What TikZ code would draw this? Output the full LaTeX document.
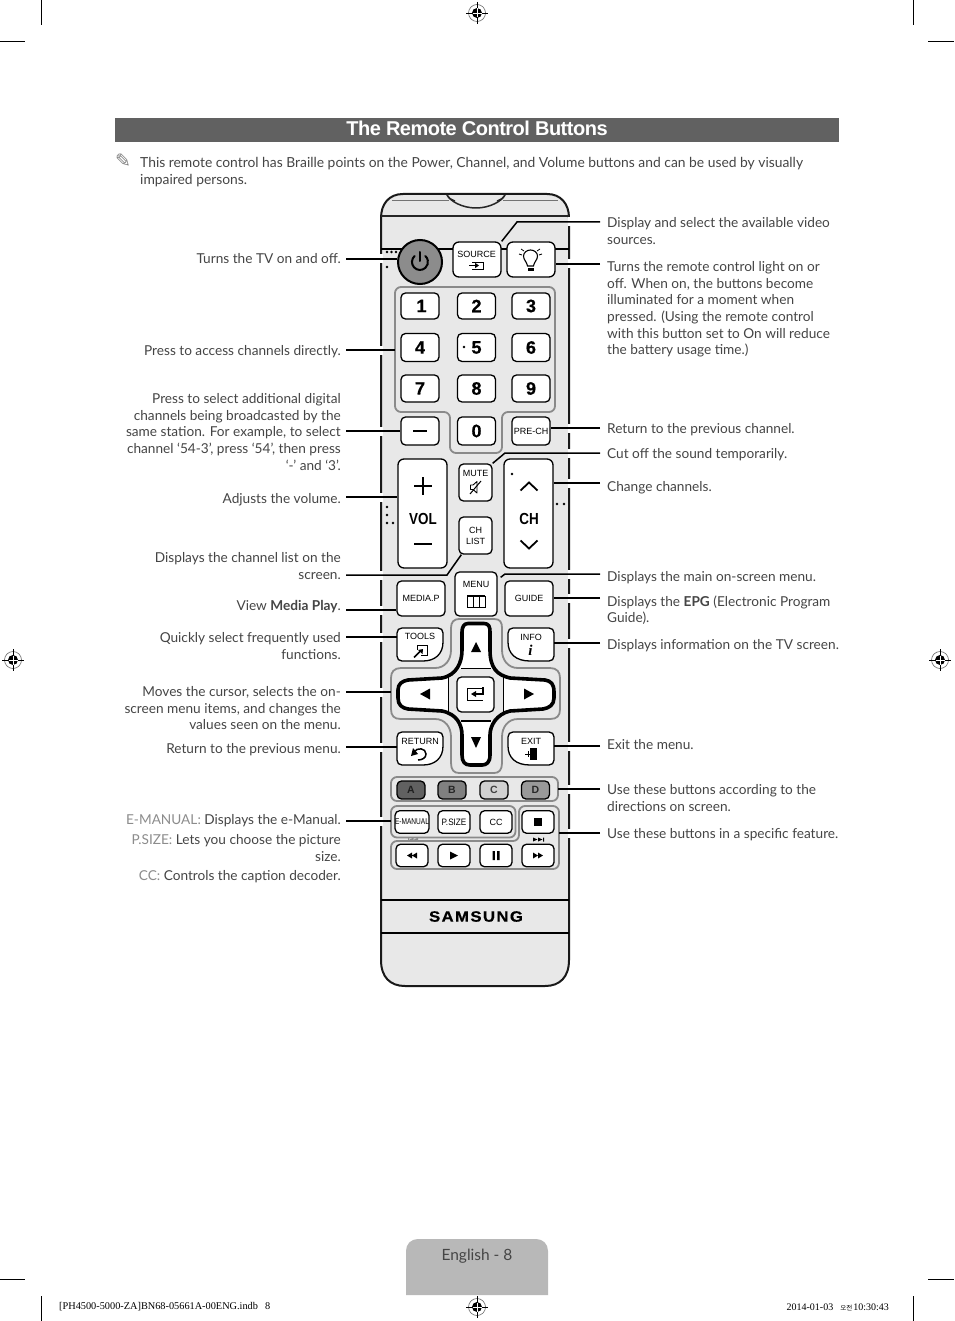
\documentclass[tikz,border=0pt]{standalone}
\usepackage{fontspec}
\setmainfont{Lato}
\newfontfamily\arialf{Liberation Sans}
\newfontfamily\titlef[LetterSpace=-2.5]{Liberation Sans}
\newfontfamily\samf[LetterSpace=9,FakeBold=0.5,FakeStretch=1.12]{Liberation Sans Bold}
\newfontfamily\digf[FakeBold=0.6]{Liberation Sans Bold}
\newfontfamily\volf[FakeStretch=0.84]{Liberation Sans Bold}
\newfontfamily\dejaf{DejaVu Sans}
\newfontfamily\timesf{Liberation Serif}
\newfontfamily\krf{Noto Sans CJK KR}
\definecolor{txt}{HTML}{454545}
\definecolor{bodyc}{HTML}{E8E8E8}
\definecolor{panelc}{HTML}{8A8A8A}
\definecolor{soft}{HTML}{8C8C8C}
\tikzset{
 lab/.style={text=txt,inner sep=0pt,yshift=-3pt,font=\fontsize{13.65}{16.6}\selectfont},
 labL/.style={lab,anchor=north east,align=right},
 labR/.style={lab,anchor=north west,align=left},
 leader/.style={draw=black,line width=1.5pt},
 btn/.style={draw=black,fill=white,line width=1.3pt,rounded corners=4.5pt,inner sep=0pt,font=\arialf\fontsize{9}{10}\selectfont},
 digit/.style={btn,minimum width=38pt,minimum height=26pt,font=\digf\fontsize{18}{18}\selectfont},
 small/.style={btn,minimum width=32pt,minimum height=22.5pt},
 colbtn/.style={btn,minimum width=28pt,minimum height=18pt,font=\arialf\bfseries\fontsize{10.5}{10.5}\selectfont},
 panel/.style={draw=panelc,fill=bodyc,line width=1.8pt},
 ttext/.style={inner sep=0pt,font=\arialf\fontsize{9}{10}\selectfont},
 dot/.style={fill=black},
 regring/.style={draw=black!60,line width=.6pt},
 crop/.style={draw=black,line width=.9pt}
}
\newcommand\regmark[2]{%
 \begin{scope}[shift={(#1,#2)}]
  \draw[regring] (0,0) circle (8.5pt);
  \fill[black] (0,0) circle (5pt);
  \draw[black,line width=.7pt] (-11,0) -- (11,0) (0,-11) -- (0,11);
  \draw[white,line width=.8pt] (-4.5,0) -- (4.5,0) (0,-4.5) -- (0,4.5);
 \end{scope}}
\newcommand\lrbtn[2]{\draw[btn,rounded corners=0pt] (#1+5,#2) -- (#1+41,#2) .. controls (#1+44,#2) and (#1+46,#2+2) .. (#1+46,#2+5) -- (#1+46,#2+14) .. controls (#1+46,#2+26) and (#1+38,#2+33) .. (#1+26,#2+33) -- (#1+5,#2+33) .. controls (#1+2,#2+33) and (#1,#2+31) .. (#1,#2+28) -- (#1,#2+5) .. controls (#1,#2+2) and (#1+2,#2) .. (#1+5,#2) -- cycle;}
\newcommand\llbtn[2]{\draw[btn,rounded corners=0pt] (#1+5,#2) -- (#1+41,#2) .. controls (#1+44,#2) and (#1+46,#2+2) .. (#1+46,#2+5) -- (#1+46,#2+28) .. controls (#1+46,#2+31) and (#1+44,#2+33) .. (#1+41,#2+33) -- (#1+22,#2+33) .. controls (#1+8,#2+33) and (#1,#2+26) .. (#1,#2+14) -- (#1,#2+5) .. controls (#1,#2+2) and (#1+2,#2) .. (#1+5,#2) -- cycle;}
\begin{document}
\begin{tikzpicture}[x=1pt,y=-1pt]
\useasboundingbox (0,0) rectangle (954,1321);
\fill[white] (0,0) rectangle (954,1321);
% crop marks
\draw[crop] (41,0) -- (41,25) (0,41) -- (25,41) (913,0) -- (913,25) (928,41) -- (954,41);
\draw[crop] (41,1296) -- (41,1321) (0,1279) -- (25,1279) (913,1296) -- (913,1321) (928,1279) -- (954,1279);
\regmark{477}{13}\regmark{13}{660}\regmark{940}{660}\regmark{477}{1307}
% heading
\fill[fill=black!62!white] (115,118) rectangle (839,142);
\node[inner sep=0pt,text=white,font=\titlef\bfseries\fontsize{20}{20}\selectfont] (title) at (477,128) {The Remote Control Buttons};
\node[inner sep=0pt,text=black!50,font=\dejaf\fontsize{19}{19}\selectfont] (pencil) at (123,161) {✎};
\node[labR,font=\fontsize{13.85}{16.6}\selectfont] (note) at (140,154.5) {This remote control has Braille points on the Power, Channel, and Volume buttons and can be used by visually\\impaired persons.};
% remote body
\draw[draw=black!90,fill=bodyc,line width=2pt] (403,194) -- (547,194) .. controls (561,194) and (569,204) .. (569,218) -- (569,960) .. controls (569,977) and (560,986) .. (545,986) -- (405,986) .. controls (390,986) and (381,977) .. (381,960) -- (381,218) .. controls (381,204) and (389,194) .. (403,194) -- cycle;
\draw[line width=.6pt,black!55] (392,200.5) -- (449,200.5) (503,200.5) -- (558,200.5);
\draw[line width=1.1pt,black!85] (381,216) -- (569,216);
\draw[line width=1.5pt,black!85] (447,195) .. controls (450,201) and (462,208) .. (476,208) .. controls (490,208) and (502,201) .. (505,195);
\draw[line width=1.2pt,black!85] (447,195) .. controls (448,198) and (451,199) .. (455,201) (505,195) .. controls (504,198) and (501,199) .. (497,201);
\draw[line width=1.5pt,black] (381,249) -- (569,249);
\draw[line width=1.5pt,black] (381,900) -- (569,900) (381,933) -- (569,933);
\node[inner sep=0pt,font=\samf\fontsize{15}{15}\selectfont] (samsung) at (476,916.5) {SAMSUNG};
% braille
\foreach \p in {(387,252),(391.5,252),(396,252),(387,267),(387,507),(387,515),(387,523),(393,523),(557,504),(564,504)}
 \fill[dot] \p circle (1.3pt);
% key panel
\draw[panel,rounded corners=6pt] (395,287) -- (555,287) -- (555,412) -- (502,412) -- (502,453) -- (450,453) -- (450,412) -- (395,412) -- cycle;
\coordinate (keyedge) at (395,350);
% power and top
\node[btn,circle,minimum size=44pt,fill=black!45,line width=2pt] (power) at (420,262) {};
\draw[line width=2pt,line cap=round] (414.6,256) arc[start angle=132,end angle=408,radius=8pt];
\draw[line width=2pt,line cap=round] (420,252) -- (420,261);
\node[btn,minimum width=48pt,minimum height=35pt,rounded corners=6pt] (source) at (477,259.5) {};
\node[ttext] (sourcet) at (476.5,254.5) {SOURCE};
\draw[line width=.7pt] (472,262) -- (483,262) -- (483,269) -- (472,269);
\draw[line width=1pt] (469,265.5) -- (477,265.5);
\fill (479,265.5) -- (475,262.8) -- (475,268.2) -- cycle;
\node[btn,minimum width=48pt,minimum height=35pt,rounded corners=6pt] (light) at (531,259.5) {};
\draw[line width=1.1pt] (527.5,266) .. controls (527,262) and (523.5,260) .. (523.5,256) .. controls (523.5,252.5) and (527,250) .. (530.5,250) .. controls (534,250) and (537.5,252.5) .. (537.5,256) .. controls (537.5,260) and (534,262) .. (533.5,266) -- cycle;
\fill (527.5,268) rectangle (533.5,271);
\draw[line width=.8pt] (519,254) -- (522,255) (521,249) -- (524,251) (539,255) -- (542,254) (537,251) -- (540,249);
% digits
\node[digit] (k1) at (420,306) {\raisebox{-.8pt}{\,1}};
\node[digit] (k2) at (476.5,306) {\raisebox{-.8pt}{2}};
\node[digit] (k3) at (531,306) {\raisebox{-.8pt}{3}};
\node[digit,minimum height=28pt] (k4) at (420,347.5) {4};
\node[digit,minimum height=28pt] (k5) at (476.5,347.5) {5};
\node[digit,minimum height=28pt] (k6) at (531,347.5) {6};
\node[digit,minimum height=27pt] (k7) at (420,388.5) {7};
\node[digit,minimum height=27pt] (k8) at (476.5,388.5) {8};
\node[digit,minimum height=27pt] (k9) at (531,388.5) {9};
\node[digit,minimum height=28pt] (kminus) at (420,431) {};
\draw[line width=2.4pt] (413,431) -- (427,431);
\node[digit,minimum height=28pt] (k0) at (476.5,431) {0};
\fill[black] (464,347) circle (1.3pt);
\node[digit,minimum height=28pt,font=\arialf\fontsize{9}{10}\selectfont] (prech) at (531,431) {PRE-CH};
% volume/channel
\node[btn,minimum width=49pt,minimum height=109pt,rounded corners=6pt] (vol) at (422.5,513.5) {};
\node[btn,minimum width=49pt,minimum height=109pt,rounded corners=6pt] (ch) at (528.5,513.5) {};
\fill[dot] (512,474) circle (1.3pt);
\draw[line width=1.6pt] (414,486) -- (432,486) (423,477) -- (423,495);
\draw[line width=2.2pt] (414,544) -- (432,544);
\node[inner sep=0pt,font=\volf\fontsize{16}{16}\selectfont] (volt) at (423,518.5) {VOL};
\node[inner sep=0pt,font=\volf\fontsize{16}{16}\selectfont] (cht) at (529,518.5) {CH};
\draw[line width=1.8pt] (520.5,490.5) -- (529,482.5) -- (537.5,490.5);
\draw[line width=1.8pt] (520.5,540.5) -- (529,548.5) -- (537.5,540.5);
\node[btn,minimum width=33pt,minimum height=37pt] (mute) at (475.5,482.5) {};
\node[ttext] (mutet) at (475.5,473.5) {MUTE};
\draw[line width=.9pt,line join=round] (470.5,485) -- (473,485) -- (477,481.5) -- (477,493) -- (473,489.5) -- (470.5,489.5) -- cycle;
\draw[line width=1pt] (470,494) -- (481,481);
\node[btn,minimum width=33pt,minimum height=37pt] (chlist) at (475.5,535.5) {};
\node[ttext,align=center,font=\arialf\fontsize{9}{10.5}\selectfont] (chlistt) at (475.5,536) {CH\\LIST};
\node[btn,minimum width=42pt,minimum height=44pt] (menu) at (476,594) {};
\node[ttext] (menut) at (476,584) {MENU};
\draw[line width=1pt] (467,596) rectangle (485,607) (473,596) -- (473,607) (479,596) -- (479,607);
\draw[line width=1.4pt] (467,596) -- (485,596);
\node[btn,minimum width=48pt,minimum height=35pt] (mediap) at (421,598.5) {MEDIA.P};
\node[btn,minimum width=48pt,minimum height=35pt] (guide) at (529,598.5) {GUIDE};
% nav panel
\draw[panel] (459,619) -- (494,619) .. controls (500,619) and (502,622) .. (502,628) -- (502,650) .. controls (502,660) and (508,668) .. (518,668) -- (550,668) .. controls (557,668) and (560,672) .. (560,678) -- (560,709) .. controls (560,716) and (557,719) .. (550,719) -- (518,719) .. controls (508,719) and (502,727) .. (502,737) -- (502,763) .. controls (502,770) and (499,773) .. (494,773) -- (459,773) .. controls (454,773) and (451,770) .. (451,763) -- (451,737) .. controls (451,727) and (445,719) .. (435,719) -- (401,719) .. controls (394,719) and (391,716) .. (391,709) -- (391,678) .. controls (391,672) and (394,668) .. (401,668) -- (435,668) .. controls (445,668) and (451,660) .. (451,650) -- (451,628) .. controls (451,622) and (454,619) .. (459,619) -- cycle;
\coordinate (navedge) at (391,692);
% tools/info/return/exit
\lrbtn{397}{628}
\node[ttext] (tools) at (420,636) {TOOLS};
\coordinate (toolsedge) at (397,637);
\draw[line width=.8pt] (417,650) -- (417,645) -- (427,645) -- (427,655) -- (421,655);
\draw[line width=1.6pt] (414,657.5) -- (420,651.5);
\fill (423,649) -- (422.5,654) -- (418,650) -- cycle;
\llbtn{508}{628}
\node[ttext] (info) at (531,637) {INFO};
\node[inner sep=0pt,font=\timesf\itshape\bfseries\fontsize{15}{15}\selectfont] (infoi) at (530.5,650) {i};
\lrbtn{397}{732}
\node[ttext] (return) at (420,741) {RETURN};
\draw[line width=1.5pt] (414,752) .. controls (417,747) and (426,748) .. (426,754) .. controls (426,758) and (422,760) .. (418,760);
\fill (411,756) -- (413,748) -- (418,754) -- cycle;
\coordinate (returnedge) at (397,747);
\llbtn{508}{732}
\node[ttext] (exit) at (531,741) {EXIT};
\coordinate (exitedge) at (554,746);
\coordinate (infoedge) at (554,643);
\fill (530,748) rectangle (537,760);
\draw[line width=.9pt] (525,754) -- (531,754) (528,751) -- (528,757);
% cross: white fill, grey gap, bold outline on top
\def\crosspath{(468,623.5) -- (484,623.5) .. controls (489,623.5) and (490,627) .. (490,632) -- (490,650) .. controls (490,668) and (497,675) .. (510,678) -- (545,680) .. controls (551,681) and (554,684) .. (554,692) -- (554,698) .. controls (554,705) and (549,708) .. (543,709) -- (510,711) .. controls (497,714) and (490,725) .. (490,735) -- (490,755) .. controls (490,763) and (486,765) .. (482,765) -- (470,765) .. controls (465,765) and (462,762) .. (462,755) -- (462,735) .. controls (462,725) and (457,714) .. (442,711) -- (408,709) .. controls (402,708) and (398,705) .. (398,698) -- (398,690) .. controls (398,684) and (402,681) .. (408,680) -- (442,678) .. controls (457,675) and (462,662) .. (462,650) -- (462,632) .. controls (462,627) and (464,623.5) .. (468,623.5) -- cycle}
\fill[white] \crosspath;
\fill[bodyc] (448.5,668.5) rectangle (503.5,721);
\draw[line width=1.2pt] (461,668.5) -- (491,668.5) (461,721) -- (491,721) (448.5,676) -- (448.5,713) (503.5,676) -- (503.5,713);
\draw[black,line width=3.6pt,line join=round] \crosspath;
\node[btn,minimum width=37pt,minimum height=35pt] (ok) at (475.5,694.5) {};
\draw[line width=1pt] (483,688) -- (467,688) -- (467,700) -- (483,700);
\draw[line width=1.3pt] (483,687) -- (483,694) -- (475,694);
\fill (471,694) -- (476,691) -- (476,697) -- cycle;
\fill (476,642) -- (481,652) -- (471,652) -- cycle;
\fill (476,748) -- (481,737) -- (471,737) -- cycle;
\fill (420,694) -- (430,688.5) -- (430,699.5) -- cycle;
\fill (534,694) -- (524,688.5) -- (524,699.5) -- cycle;
% colour buttons
\draw[panel,rounded corners=6pt] (391,777) rectangle (558,801);
\coordinate (coledge) at (558,789);
\node[colbtn,fill=black!62,text=black!88] (ba) at (411,790) {A};
\node[colbtn,fill=black!50,text=black!85] (bb) at (452,790) {B};
\node[colbtn,fill=black!18,text=black!75] (bc) at (494,790) {C};
\node[colbtn,fill=black!40,text=black!85] (bd) at (535.5,790) {D};
% lower panels
\draw[panel,rounded corners=6pt] (519,806) -- (559,806) -- (559,869) -- (391,869) -- (391,841) -- (519,841) -- cycle;
\draw[panel,rounded corners=6pt] (391,806) rectangle (515.5,837.5);
\coordinate (lowl) at (391,821);
\coordinate (lowr) at (559,833);
\node[small,font=\arialf\fontsize{8.4}{9}\selectfont] (emanual) at (412,822) {\addfontfeature{FakeStretch=.78}E-MANUAL};
\node[small,font=\arialf\fontsize{9.3}{10}\selectfont] (psize) at (454,822) {\addfontfeature{FakeStretch=.88}P.SIZE};
\node[small] (cc) at (496,822) {CC};
\node[small] (stop) at (538,822) {};
\fill (534,818) rectangle (542,826);
\node[small] (rew) at (412,855.5) {};
\fill (407,855.5) -- (412,852.5) -- (412,858.5) -- cycle (412,855.5) -- (417,852.5) -- (417,858.5) -- cycle;
\node[small] (play) at (454,855.5) {};
\fill (450,851.5) -- (458,855.5) -- (450,859.5) -- cycle;
\node[small] (pause) at (496,855.5) {};
\fill (492.5,851) rectangle (494.8,860) (497.2,851) rectangle (499.5,860);
\node[small] (ffw) at (538,855.5) {};
\fill (533,852.5) -- (538,855.5) -- (533,858.5) -- cycle (538,852.5) -- (543,855.5) -- (538,858.5) -- cycle;
% tiny skip icons
\fill[black!45] (408,837.5) rectangle (409,841.5) (414,839.5) -- (418,837.5) -- (418,841.5) -- cycle (409.5,839.5) -- (413.5,837.5) -- (413.5,841.5) -- cycle;
\fill[black] (543,837.5) rectangle (544,841.5) (533,837.5) -- (537.5,839.5) -- (533,841.5) -- cycle (538,837.5) -- (542.5,839.5) -- (538,841.5) -- cycle;
% left labels
\node[labL] (t1) at (341,250.5) {Turns the TV on and off.};
\node[labL] (t2) at (341,342.5) {Press to access channels directly.};
\node[labL] (t3) at (341,390.5) {Press to select additional digital\\channels being broadcasted by the\\same station. For example, to select\\channel ‘54-3’, press ‘54’, then press\\‘-’ and ‘3’.};
\node[labL] (t4) at (341,490.5) {Adjusts the volume.};
\node[labL] (t5) at (341,549.5) {Displays the channel list on the\\screen.};
\node[labL] (t6) at (341,597.5) {View \textbf{Media Play}.};
\node[labL] (t7) at (341,629.5) {Quickly select frequently used\\functions.};
\node[labL] (t8) at (341,683.5) {Moves the cursor, selects the on-\\screen menu items, and changes the\\values seen on the menu.};
\node[labL] (t9) at (341,740.5) {Return to the previous menu.};
\node[labL] (t10) at (341,811.5) {\textcolor{soft}{E-MANUAL:} Displays the e-Manual.};
\node[labL] (t11) at (341,831.5) {\textcolor{soft}{P.SIZE:} Lets you choose the picture\\size.};
\node[labL] (t12) at (341,867.5) {\textcolor{soft}{CC:} Controls the caption decoder.};
% right labels
\node[labR] (r1) at (607,214.5) {Display and select the available video\\sources.};
\node[labR] (r2) at (607,258.5) {Turns the remote control light on or\\off. When on, the buttons become\\illuminated for a moment when\\pressed. (Using the remote control\\with this button set to On will reduce\\the battery usage time.)};
\node[labR] (r3) at (607,420.5) {Return to the previous channel.};
\node[labR] (r4) at (607,445.5) {Cut off the sound temporarily.};
\node[labR] (r5) at (607,478.5) {Change channels.};
\node[labR] (r6) at (607,568.5) {Displays the main on-screen menu.};
\node[labR] (r7) at (607,592.5) {Displays the \textbf{EPG} (Electronic Program\\Guide).};
\node[labR] (r8) at (607,636.5) {Displays information on the TV screen.};
\node[labR] (r9) at (607,736.5) {Exit the menu.};
\node[labR] (r10) at (607,781.5) {Use these buttons according to the\\directions on screen.};
\node[labR] (r11) at (607,825.5) {Use these buttons in a specific feature.};
% gaps in the body outline where leaders cross
\foreach \yy in {259,350,431,497,575,610,637,692,747,821}
 \fill[white] (379.5,\yy-4.5) rectangle (382.5,\yy+4.5);
\foreach \yy in {222,264,428,453,483,574,598,643,746,789,833}
 \fill[white] (567.5,\yy-4.5) rectangle (570.5,\yy+4.5);
% leaders
\coordinate (la) at (346,259); \coordinate (lb) at (346,350); \coordinate (lc) at (346,431);
\coordinate (ld) at (346,497); \coordinate (le) at (346,575); \coordinate (lf) at (346,610);
\coordinate (lg) at (346,637); \coordinate (lh) at (346,692); \coordinate (li) at (346,747);
\coordinate (lj) at (346,821);
\draw[leader] (la) -- (la -| power.west);
\draw[leader] (lb) -- (keyedge);
\draw[leader] (lc) -- (kminus.west);
\draw[leader] (ld) -- (ld -| vol.west);
\draw[leader] (lf) -- (lf -| mediap.west);
\draw[leader] (lg) -- (toolsedge);
\draw[leader] (lh) -- (navedge);
\draw[leader] (li) -- (returnedge);
\draw[leader] (lj) -- (lowl);
\coordinate (chbend) at (447,575);
\draw[leader] (le) -- (chbend) -- ([xshift=3pt]chlist.south west);
\coordinate (rsrc) at (600,222);
\coordinate (srcbend) at (517,222);
\draw[leader] (source.north east) -- (srcbend) -- (rsrc);
\coordinate (rlight) at (600,264);
\draw[leader] (rlight) -- (rlight -| light.east);
\coordinate (rprech) at (600,428);
\draw[leader] (rprech) -- (rprech -| prech.east);
\coordinate (rmute) at (600,453);
\coordinate (mutebend) at (505,453);
\draw[leader] (mute.north east) -- (mutebend) -- (rmute);
\coordinate (rch) at (600,483);
\draw[leader] (rch) -- (rch -| ch.east);
\coordinate (rmenu) at (600,574);
\coordinate (menubend) at (505,574);
\draw[leader] ([shift={(3,6)}]menu.north east) -- (menubend) -- (rmenu);
\coordinate (rguide) at (600,598);
\draw[leader] (rguide) -- (rguide -| guide.east);
\coordinate (rinfo) at (600,643);
\draw[leader] (rinfo) -- (infoedge);
\coordinate (rexit) at (600,746);
\draw[leader] (rexit) -- (exitedge);
\coordinate (rcol) at (600,789);
\draw[leader] (rcol) -- (coledge);
\coordinate (rlow) at (600,833);
\draw[leader] (rlow) -- (lowr);
% footer
\path[fill=black!28] (406,1295) -- (406,1251) .. controls (406,1244) and (411,1239) .. (418,1239) -- (536,1239) .. controls (543,1239) and (548,1244) .. (548,1251) -- (548,1295) -- cycle;
\node[inner sep=0pt,text=txt,font=\fontsize{15.5}{15.5}\selectfont] (page) at (477,1256) {English - 8};
\node[inner sep=0pt,anchor=west,font=\timesf\fontsize{10.3}{10}\selectfont] (f1) at (59,1307) {[PH4500-5000-ZA]BN68-05661A-00ENG.indb\hspace{7pt}8};
\node[inner sep=0pt,anchor=east,font=\timesf\fontsize{10}{10}\selectfont] (f2) at (889,1307) {2014-01-03\hspace{7pt}{\krf\fontsize{6.5}{6.5}\selectfont 오전}\hspace{1pt}10:30:43};
\end{tikzpicture}
\end{document}
